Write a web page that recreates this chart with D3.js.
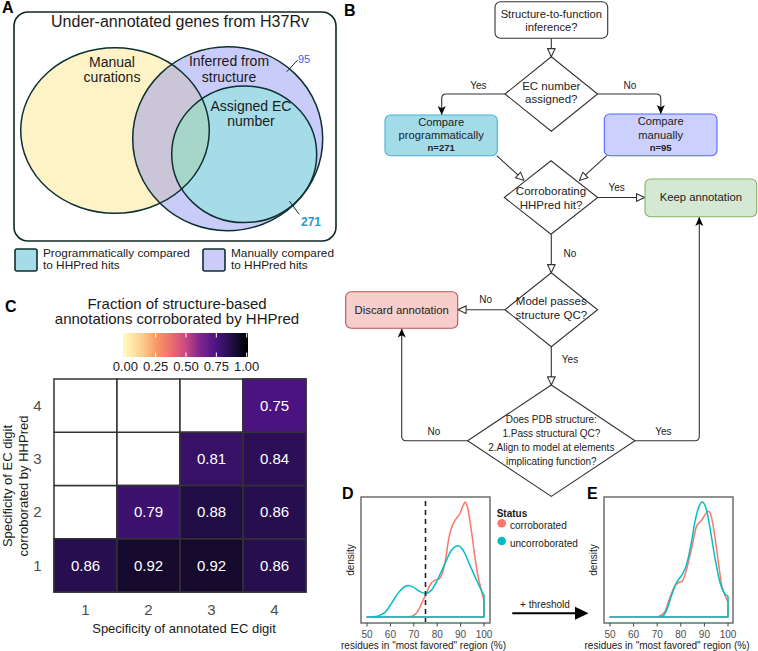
<!DOCTYPE html>
<html><head><meta charset="utf-8">
<script src="https://cdn.jsdelivr.net/npm/d3@7"></script>
<style>
body{margin:0;background:#fff}
svg{display:block}
text{font-family:"Liberation Sans",Arial,Helvetica,sans-serif}
</style>
</head><body>
<svg id="fig" width="758" height="651"></svg>
<script>
// ---------------- DATA ----------------
// Panel A (Venn)
const vennLabels = [["Manual","curations"],["Inferred from","structure"],["Assigned EC","number"]];
const vennCounts = [95, 271];
const vennTitle = "Under-annotated genes from H37Rv";
const legendALabels = [["Programmatically compared","to HHPred hits"],["Manually compared","to HHPred hits"]];

// Panel C (heatmap)
const heatCategories = [1, 2, 3, 4];
const heatX = [1, 2, 3, 4, 2, 3, 4, 3, 4, 4];
const heatY = [1, 1, 1, 1, 2, 2, 2, 3, 3, 4];
const heatV = [0.86, 0.92, 0.92, 0.86, 0.79, 0.88, 0.86, 0.81, 0.84, 0.75];
const colorbarTicks = [0, 0.25, 0.5, 0.75, 1];

// Panels D/E (densities)
const densTicks = [50, 60, 70, 80, 90, 100];
const threshold = 75;
const dCorrX = [50, 66, 68, 70, 72, 73.4, 75, 77, 79, 80.7, 82.2, 83.6, 85, 86, 87.6, 89.7, 91.1, 92, 93, 94.7, 96.1, 97.5, 98.9, 100];
const dCorrY = [0, 0, 0.003, 0.015, 0.06, 0.12, 0.19, 0.28, 0.32, 0.33, 0.38, 0.5, 0.69, 0.77, 0.84, 0.9, 0.97, 1.0, 0.95, 0.74, 0.52, 0.35, 0.23, 0.14];
const dUncX = [50, 52, 54.8, 57.7, 60.5, 63.4, 66.2, 67.7, 69.8, 72.6, 75, 77.6, 80.4, 83.3, 86.1, 89, 91.1, 94, 96.8, 98.9, 100];
const dUncY = [0, 0.002, 0.01, 0.04, 0.12, 0.21, 0.265, 0.275, 0.26, 0.22, 0.205, 0.235, 0.335, 0.465, 0.58, 0.62, 0.58, 0.45, 0.32, 0.23, 0.19];
const eCorrX = [50, 69, 70.5, 72, 73.3, 75.4, 77.5, 79, 80.6, 82.5, 84.6, 86.7, 88.8, 90.3, 91.7, 93.1, 94.5, 95.9, 97.3, 98.7, 100];
const eCorrY = [0, 0, 0.005, 0.02, 0.05, 0.17, 0.27, 0.30, 0.31, 0.42, 0.6, 0.79, 0.84, 0.89, 0.92, 0.86, 0.69, 0.48, 0.28, 0.19, 0.13];
const eUncX = [50, 71, 72.5, 74, 76.1, 78.2, 80.6, 82.5, 84.6, 86, 87.7, 89.1, 90.9, 92.4, 94.5, 96.6, 98.4, 100];
const eUncY = [0, 0, 0.01, 0.06, 0.19, 0.3, 0.37, 0.46, 0.66, 0.83, 0.96, 1.0, 0.93, 0.77, 0.51, 0.3, 0.21, 0.18];
const statusLabels = ["corroborated", "uncorroborated"];

// ---------------- DRAW ----------------
const svg = d3.select("#fig");
const defs = svg.append("defs");
const txt = (g, x, y, s, size, opts = {}) => {
  const t = g.append("text").attr("x", x).attr("y", y).text(s)
    .attr("font-size", size).attr("fill", opts.fill || "#1a1a1a")
    .attr("text-anchor", opts.anchor || "start");
  if (opts.weight) t.attr("font-weight", opts.weight);
  return t;
};

// Panel letters
[["A", 2, 13], ["B", 344, 16], ["C", 5, 312], ["D", 342, 499], ["E", 587, 499]].forEach(([l, x, y]) =>
  txt(svg, x, y, l, 16, { weight: "bold", fill: "#000" }));

// ===== Panel A =====
const gA = svg.append("g");
gA.append("rect").attr("x", 14).attr("y", 12).attr("width", 322).attr("height", 229).attr("rx", 14)
  .attr("fill", "none").attr("stroke", "#10291f").attr("stroke-width", 1.6);
txt(gA, 180, 27, vennTitle, 16, { anchor: "middle" });

const ell = [
  { cx: 115, cy: 130.5, rx: 94.3, ry: 82.8, fill: "#fef3c7" },
  { cx: 227.7, cy: 138.7, rx: 95, ry: 92, fill: "#c9cbf8" },
  { cx: 244.2, cy: 154.3, rx: 72.5, ry: 68.3, fill: "#a6dce8" }
];
defs.append("clipPath").attr("id", "clipY").append("ellipse")
  .attr("cx", ell[0].cx).attr("cy", ell[0].cy).attr("rx", ell[0].rx).attr("ry", ell[0].ry);
ell.forEach(e => gA.append("ellipse").attr("cx", e.cx).attr("cy", e.cy).attr("rx", e.rx).attr("ry", e.ry).attr("fill", e.fill));
gA.append("ellipse").attr("clip-path", "url(#clipY)").attr("cx", ell[1].cx).attr("cy", ell[1].cy)
  .attr("rx", ell[1].rx).attr("ry", ell[1].ry).attr("fill", "#cbc5d8");
gA.append("ellipse").attr("clip-path", "url(#clipY)").attr("cx", ell[2].cx).attr("cy", ell[2].cy)
  .attr("rx", ell[2].rx).attr("ry", ell[2].ry).attr("fill", "#a7d6c9");
ell.forEach(e => gA.append("ellipse").attr("cx", e.cx).attr("cy", e.cy).attr("rx", e.rx).attr("ry", e.ry)
  .attr("fill", "none").attr("stroke", "#0e3030").attr("stroke-width", 1.5));
const vennPos = [[112, 66.5, 81.5], [229, 66, 81.5], [251, 110.5, 125.5]];
vennLabels.forEach((l, i) => {
  txt(gA, vennPos[i][0], vennPos[i][1], l[0], 14, { anchor: "middle" });
  txt(gA, vennPos[i][0], vennPos[i][2], l[1], 14, { anchor: "middle" });
});
gA.append("line").attr("x1", 297.7).attr("y1", 60).attr("x2", 286.7).attr("y2", 71.7).attr("stroke", "#0e3030").attr("stroke-width", 1);
txt(gA, 298, 63, vennCounts[0], 11, { fill: "#3d5ef5" });
gA.append("line").attr("x1", 289.3).attr("y1", 201).attr("x2", 299.3).attr("y2", 214.3).attr("stroke", "#0e3030").attr("stroke-width", 1);
txt(gA, 301, 226, vennCounts[1], 12, { fill: "#1a9fc9", weight: "bold" });

// legend A
[[15, 43, "#a6dce8"], [203, 231, "#ccccf8"]].forEach(([bx, tx, c], i) => {
  gA.append("rect").attr("x", bx).attr("y", 249).attr("width", 22).attr("height", 22).attr("rx", 2)
    .attr("fill", c).attr("stroke", "#0e3030").attr("stroke-width", 1.6);
  txt(gA, tx, 257, legendALabels[i][0], 11.8);
  txt(gA, tx, 268.5, legendALabels[i][1], 11.8);
});

// ===== Panel C =====
const gC = svg.append("g");
txt(gC, 177, 309, "Fraction of structure-based", 15, { anchor: "middle" });
txt(gC, 177, 324, "annotations corroborated by HHPred", 15, { anchor: "middle" });
const colStops = [0, 0.15, 0.25, 0.375, 0.5, 0.625, 0.75, 0.875, 1];
const colVals = ["#fdf8b8", "#fcc98a", "#f99a66", "#ee6f6e", "#c84882", "#7a238f", "#4a1380", "#220e48", "#000000"];
const heatColor = d3.scaleLinear().domain(colStops).range(colVals).interpolate(d3.interpolateRgb);

// colorbar
const cb = d3.scaleLinear().domain([0, 1]).range([125.3, 246.7]);
const cbX = 123, cbW = 125, cbY = 333, cbH = 24;
const grad = defs.append("linearGradient").attr("id", "cbGrad").attr("x1", 0).attr("x2", 1).attr("y1", 0).attr("y2", 0);
d3.range(0, 1.0001, 0.025).forEach(t => grad.append("stop")
  .attr("offset", (cb(t) - cbX) / cbW).attr("stop-color", heatColor(t)));
gC.append("rect").attr("x", cbX).attr("y", cbY).attr("width", cbW).attr("height", cbH).attr("fill", "url(#cbGrad)");
colorbarTicks.forEach(t => {
  gC.append("line").attr("x1", cb(t)).attr("x2", cb(t)).attr("y1", cbY).attr("y2", cbY + 4.5).attr("stroke", "#fff").attr("stroke-width", 1);
  gC.append("line").attr("x1", cb(t)).attr("x2", cb(t)).attr("y1", cbY + cbH - 4.5).attr("y2", cbY + cbH).attr("stroke", "#fff").attr("stroke-width", 1);
  txt(gC, cb(t), 370.7, d3.format(".2f")(t), 13, { anchor: "middle", fill: "#222" });
});

// heatmap
const xh = d3.scaleBand().domain(heatCategories).range([54, 306]);
const yh = d3.scaleBand().domain(heatCategories.slice().reverse()).range([379, 592]);
heatCategories.forEach(cx => heatCategories.forEach(cy => {
  gC.append("rect").attr("x", xh(cx)).attr("y", yh(cy)).attr("width", xh.bandwidth()).attr("height", yh.bandwidth())
    .attr("fill", "#fff").attr("stroke", "#333").attr("stroke-width", 1.5);
}));
heatV.forEach((v, i) => {
  gC.append("rect").attr("x", xh(heatX[i])).attr("y", yh(heatY[i])).attr("width", xh.bandwidth()).attr("height", yh.bandwidth())
    .attr("fill", heatColor(v)).attr("stroke", "#333").attr("stroke-width", 1.5);
  txt(gC, xh(heatX[i]) + xh.bandwidth() / 2, yh(heatY[i]) + yh.bandwidth() / 2 + 5.3, d3.format(".2f")(v), 15,
    { anchor: "middle", fill: "#fff" });
});
heatCategories.forEach(c => {
  txt(gC, xh(c) + xh.bandwidth() / 2, 615, c, 15, { anchor: "middle", fill: "#4d4d4d" });
  txt(gC, 37.5, yh(c) + yh.bandwidth() / 2 + 5.3, c, 15, { anchor: "middle", fill: "#4d4d4d" });
});
txt(gC, 184, 633, "Specificity of annotated EC digit", 13, { anchor: "middle" });
txt(gC, 0, 0, "Specificity of EC digit", 13, { anchor: "middle" }).attr("transform", "translate(12.3,486) rotate(-90)");
txt(gC, 0, 0, "corroborated by HHPred", 13, { anchor: "middle" }).attr("transform", "translate(27.8,486) rotate(-90)");

// ===== Panel B (flowchart) =====
const gB = svg.append("g");
const lineCol = "#333";
function marker(id, hollow) {
  const m = defs.append("marker").attr("id", id).attr("viewBox", "0 0 10 10").attr("refX", 10).attr("refY", 5)
    .attr("markerWidth", 9).attr("markerHeight", 9).attr("markerUnits", "userSpaceOnUse").attr("orient", "auto");
  if (hollow) m.append("path").attr("d", "M1,0.8 L10,5 L1,9.2 Z").attr("fill", "#fff").attr("stroke", lineCol).attr("stroke-width", 1.2);
  else m.append("path").attr("d", "M0,0.5 L10,5 L0,9.5 L2.5,5 Z").attr("fill", "#000");
}
marker("hollow", true); marker("filled", false);

const boxes = [
  { x: 495, y: 1.7, w: 112.7, h: 36.6, fill: "#fff", stroke: "#333", lines: [["Structure-to-function", 18, 11.2], ["inference?", 31.3, 11.2]] },
  { x: 385, y: 115, w: 112.3, h: 40.7, fill: "#a3dbe9", stroke: "#42b4d8", lines: [["Compare", 126, 11.2], ["programmatically", 139.3, 11.2], ["n=271", 151, 9.5, "bold"]] },
  { x: 604.3, y: 114, w: 112.7, h: 41.7, fill: "#ccd0fc", stroke: "#5566f5", lines: [["Compare", 125, 11.2], ["manually", 138.7, 11.2], ["n=95", 151, 9.5, "bold"]] },
  { x: 645, y: 179, w: 111.7, h: 37.7, fill: "#d5e8d4", stroke: "#82b366", lines: [["Keep annotation", 201.3, 11.3]] },
  { x: 345.7, y: 291.7, w: 112, h: 36.6, fill: "#f8cecc", stroke: "#b85450", lines: [["Discard annotation", 313.5, 11.3]] }
];
const diamonds = [
  { cx: 551.3, cy: 94, hw: 46.3, hh: 37.2, lines: [["EC number", 90, 11.5], ["assigned?", 103.3, 11.5]] },
  { cx: 551, cy: 197.5, hw: 46.7, hh: 36.8, lines: [["Corroborating", 195.3, 11.5], ["HHPred hit?", 208.7, 11.5]] },
  { cx: 551.3, cy: 309.7, hw: 46.3, hh: 37, lines: [["Model passes", 305.3, 11.5], ["structure QC?", 318.7, 11.5]] },
  { cx: 551.3, cy: 440.7, hw: 83.7, hh: 55.7, lines: [["Does PDB structure:", 423.3, 10], ["1.Pass structural QC?", 437.3, 10], ["2.Align to model at elements", 451.3, 10], ["implicating function?", 465.3, 10]] }
];
const edges = [
  ["M551.3,38.3 V56.7", "hollow"],
  ["M505,94 H446.2 Q441.7,94 441.7,98.5 V115", "filled"],
  ["M597.6,94 H656.3 Q660.8,94 660.8,98.5 V114", "filled"],
  ["M496.7,155.7 L524,180.4", "hollow"],
  ["M606.7,155.7 L579.4,180.4", "hollow"],
  ["M597.7,197.5 H644.6", "hollow"],
  ["M551.3,234.3 V272.7", "hollow"],
  ["M505,309.7 H458", "hollow"],
  ["M551.3,346.7 V385", "hollow"],
  ["M467.6,440.7 H406.2 Q401.7,440.7 401.7,436.2 V328.6", "filled"],
  ["M635,440.7 H694.8 Q699.3,440.7 699.3,436.2 V217", "filled"]
];
const edgeLabels = [["Yes", 478.3, 89.3], ["No", 630, 89.3], ["Yes", 616.7, 191.3], ["No", 570, 256.7],
  ["No", 485.7, 303.3], ["Yes", 570, 363.3], ["No", 434, 435], ["Yes", 663.3, 435]];

edges.forEach(([d, m]) => gB.append("path").attr("d", d).attr("fill", "none").attr("stroke", lineCol)
  .attr("stroke-width", 1.1).attr("marker-end", `url(#${m})`));
boxes.forEach(b => {
  gB.append("rect").attr("x", b.x).attr("y", b.y).attr("width", b.w).attr("height", b.h).attr("rx", 5.5)
    .attr("fill", b.fill).attr("stroke", b.stroke).attr("stroke-width", 1.1);
  b.lines.forEach(([s, y, fs, w]) => txt(gB, b.x + b.w / 2, y, s, fs, { anchor: "middle", weight: w, fill: "#222" }));
});
diamonds.forEach(d => {
  gB.append("polygon").attr("points", [[d.cx, d.cy - d.hh], [d.cx + d.hw, d.cy], [d.cx, d.cy + d.hh], [d.cx - d.hw, d.cy]].map(p => p.join(",")).join(" "))
    .attr("fill", "#fff").attr("stroke", lineCol).attr("stroke-width", 1.1);
});
diamonds.forEach(d => d.lines.forEach(([s, y, fs]) => txt(gB, d.cx, y, s, fs, { anchor: "middle", fill: "#222" })));
edgeLabels.forEach(([s, x, y]) => txt(gB, x, y, s, 10, { anchor: "middle", fill: "#222" }));

// ===== Panels D & E =====
const yD = d3.scaleLinear().domain([0, 1]).range([617, 502]);
const red = "#F8766D", teal = "#00BFC4";
function densPanel(boxX, rangeX, series, withThreshold) {
  const g = svg.append("g");
  const xs = d3.scaleLinear().domain([50, 100]).range(rangeX);
  const line = d3.line().x(d => xs(d[0])).y(d => yD(d[1])).curve(d3.curveMonotoneX);
  series.forEach(([X, Y, c]) => {
    const pts = X.map((x, i) => [x, Y[i]]);
    const d = line(pts) + `L${xs(100)},${yD(0)}L${xs(50)},${yD(0)}Z`;
    g.append("path").attr("d", d).attr("fill", "none").attr("stroke", c).attr("stroke-width", 1.5).attr("stroke-linejoin", "round");
  });
  if (withThreshold) g.append("line").attr("x1", xs(threshold)).attr("x2", xs(threshold)).attr("y1", 501).attr("y2", 622)
    .attr("stroke", "#222").attr("stroke-width", 1.6).attr("stroke-dasharray", "5,4");
  g.append("rect").attr("x", boxX).attr("y", 497).attr("width", 129).attr("height", 126)
    .attr("fill", "none").attr("stroke", "#6e6e6e").attr("stroke-width", 1.5);
  densTicks.forEach(t => {
    g.append("line").attr("x1", xs(t)).attr("x2", xs(t)).attr("y1", 623).attr("y2", 626.5).attr("stroke", "#444").attr("stroke-width", 1);
    txt(g, xs(t), 637.5, t, 10, { anchor: "middle", fill: "#4d4d4d" });
  });
  txt(g, (rangeX[0] + rangeX[1]) / 2 - 2, 648.5, 'residues in "most favored" region (%)', 10, { anchor: "middle" });
  txt(g, 0, 0, "density", 10, { anchor: "middle" }).attr("transform", `translate(${boxX - 7},560) rotate(-90)`);
  return g;
}
densPanel(361, [367, 484], [[dCorrX, dCorrY, red], [dUncX, dUncY, teal]], true);
densPanel(604, [610, 728], [[eCorrX, eCorrY, red], [eUncX, eUncY, teal]], false);

// legend
txt(svg, 496.7, 516.7, "Status", 10, { weight: "bold" });
[[red, 523.3, 529], [teal, 541, 546.7]].forEach(([c, cy, ty], i) => {
  svg.append("circle").attr("cx", 501.7).attr("cy", cy).attr("r", 4.3).attr("fill", c);
  txt(svg, 510, ty, statusLabels[i], 10);
});
// threshold arrow
svg.append("line").attr("x1", 512.3).attr("x2", 577).attr("y1", 613.3).attr("y2", 613.3).attr("stroke", "#000").attr("stroke-width", 2);
svg.append("path").attr("d", "M575,606.8 L588.5,613.3 L575,619.8 Z").attr("fill", "#000");
txt(svg, 545, 608, "+ threshold", 10, { anchor: "middle", fill: "#222" });
</script>
</body></html>
